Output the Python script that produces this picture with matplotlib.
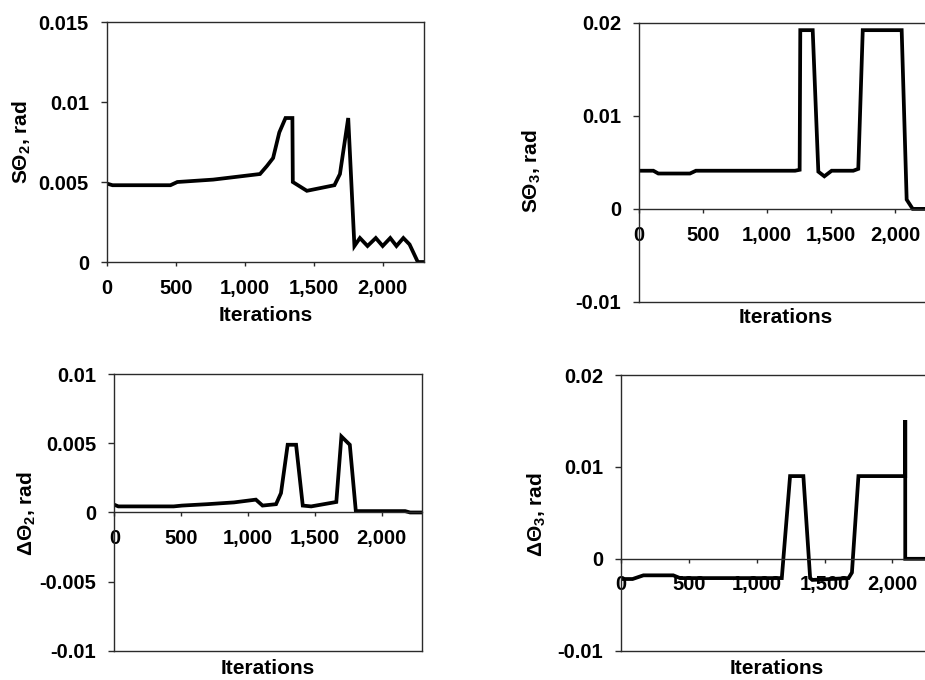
import matplotlib
matplotlib.use('Agg')
import matplotlib.pyplot as plt

plt.rcParams['font.family'] = ['Liberation Sans', 'DejaVu Sans']
plt.rcParams['font.weight'] = 'bold'
plt.rcParams['mathtext.fontset'] = 'custom'
plt.rcParams['mathtext.rm'] = 'Liberation Sans:bold'
plt.rcParams['mathtext.it'] = 'Liberation Sans:bold'
plt.rcParams['mathtext.bf'] = 'Liberation Sans:bold'

# values
s2_x = [0, 40, 460, 510, 770, 1110, 1160, 1205, 1250, 1295, 1345, 1348, 1450, 1650, 1690, 1750,
        1795, 1835, 1890, 1950, 2000, 2055, 2100, 2150, 2195, 2255, 2300]
s2_y = [0.0049, 0.0048, 0.0048, 0.0050, 0.00515, 0.0055, 0.0060, 0.0065, 0.0081, 0.0090, 0.0090,
        0.0050, 0.00445, 0.0048, 0.0055, 0.0090, 0.0010, 0.0015, 0.0010, 0.0015, 0.0010, 0.0015,
        0.0010, 0.0015, 0.0011, 0.0, 0.0]

s3_x = [0, 112, 151, 398, 445, 1219, 1255, 1260, 1357, 1401, 1448, 1505, 1674, 1713, 1748, 2052,
        2091, 2138, 2300]
s3_y = [0.0041, 0.0041, 0.0038, 0.0038, 0.0041, 0.0041, 0.0042, 0.0192, 0.0192, 0.0040, 0.0035,
        0.0041, 0.0041, 0.0043, 0.0192, 0.0192, 0.0010, 0.0, 0.0]

d2_x = [0, 30, 444, 507, 695, 896, 1059, 1109, 1210, 1247, 1297, 1360, 1410, 1473, 1661, 1699,
        1762, 1807, 2176, 2213, 2300]
d2_y = [0.00056, 0.00044, 0.00044, 0.0005, 0.0006, 0.00073, 0.00093, 0.0005, 0.0006, 0.0014,
        0.0049, 0.0049, 0.0005, 0.00044, 0.00076, 0.0055, 0.0049, 0.0001, 0.0001, 0.0, 0.0]

d3_x = [0, 85, 165, 385, 435, 1185, 1246, 1344, 1394, 1410, 1677, 1702, 1750, 2095, 2095, 2095,
        2300]
d3_y = [-0.0022, -0.0022, -0.0018, -0.0018, -0.0021, -0.0021, 0.009, 0.009, -0.0021, -0.0023,
        -0.0021, -0.0015, 0.009, 0.009, 0.0151, 0.0, 0.0]

x_ticks = [0, 500, 1000, 1500, 2000]
x_labels = ['0', '500', '1,000', '1,500', '2,000']

panels = [
    # data, position, yticks, ylabels, ylabel text, ylabel xy, xlabel y
    (s2_x, s2_y, [0.1157, 0.6147, 0.3427, 0.3529], (0, 0.015),
     [0, 0.005, 0.01, 0.015], ['0', '0.005', '0.01', '0.015'],
     r'S$\Theta_2$, rad', (-0.268, 0.5), -0.221),
    (s3_x, s3_y, [0.6908, 0.5559, 0.3183, 0.4107], (-0.01, 0.02),
     [-0.01, 0, 0.01, 0.02], ['-0.01', '0', '0.01', '0.02'],
     r'S$\Theta_3$, rad', (-0.363, 0.47), -0.057),
    (d2_x, d2_y, [0.1236, 0.0431, 0.3323, 0.4065], (-0.01, 0.01),
     [-0.01, -0.005, 0, 0.005, 0.01], ['-0.01', '-0.005', '0', '0.005', '0.01'],
     r'$\Delta\Theta_2$, rad', (-0.284, 0.495), -0.063),
    (d3_x, d3_y, [0.6714, 0.0431, 0.3373, 0.4054], (-0.01, 0.02),
     [-0.01, 0, 0.01, 0.02], ['-0.01', '0', '0.01', '0.02'],
     r'$\Delta\Theta_3$, rad', (-0.269, 0.495), -0.063),
]

fig = plt.figure(figsize=(9.25, 6.8), dpi=100)
box = '#2a2a2a'

for xs, ys, pos, ylim, yt, yl, ylab, ylab_xy, xlab_y in panels:
    ax = fig.add_axes(pos)
    ax.plot(xs, ys, color='black', linewidth=2.7, solid_joinstyle='miter')
    ax.set_xlim(0, 2300)
    ax.set_ylim(*ylim)
    ax.set_xticks(x_ticks)
    ax.set_xticklabels(x_labels)
    ax.set_yticks(yt)
    ax.set_yticklabels(yl)
    for sp in ax.spines.values():
        sp.set_color(box)
        sp.set_linewidth(1.0)
    if ylim[0] < 0:
        ax.spines['bottom'].set_position(('data', 0))
        ax.plot([0, 1], [0, 0], transform=ax.transAxes, color=box, linewidth=1.0,
                clip_on=False)
    ax.tick_params(axis='x', direction='out', length=3, width=1.0, color=box, pad=9,
                   labelsize=14.5)
    ax.tick_params(axis='y', direction='out', length=4, width=1.0, color=box, pad=9,
                   labelsize=14.5)
    ax.text(ylab_xy[0], ylab_xy[1], ylab, transform=ax.transAxes, rotation=90,
            ha='center', va='center', fontsize=15, fontweight='bold')
    ax.text(0.5, xlab_y, 'Iterations', transform=ax.transAxes, ha='center', va='center',
            fontsize=15, fontweight='bold')

fig.savefig('out.png', dpi=100)
